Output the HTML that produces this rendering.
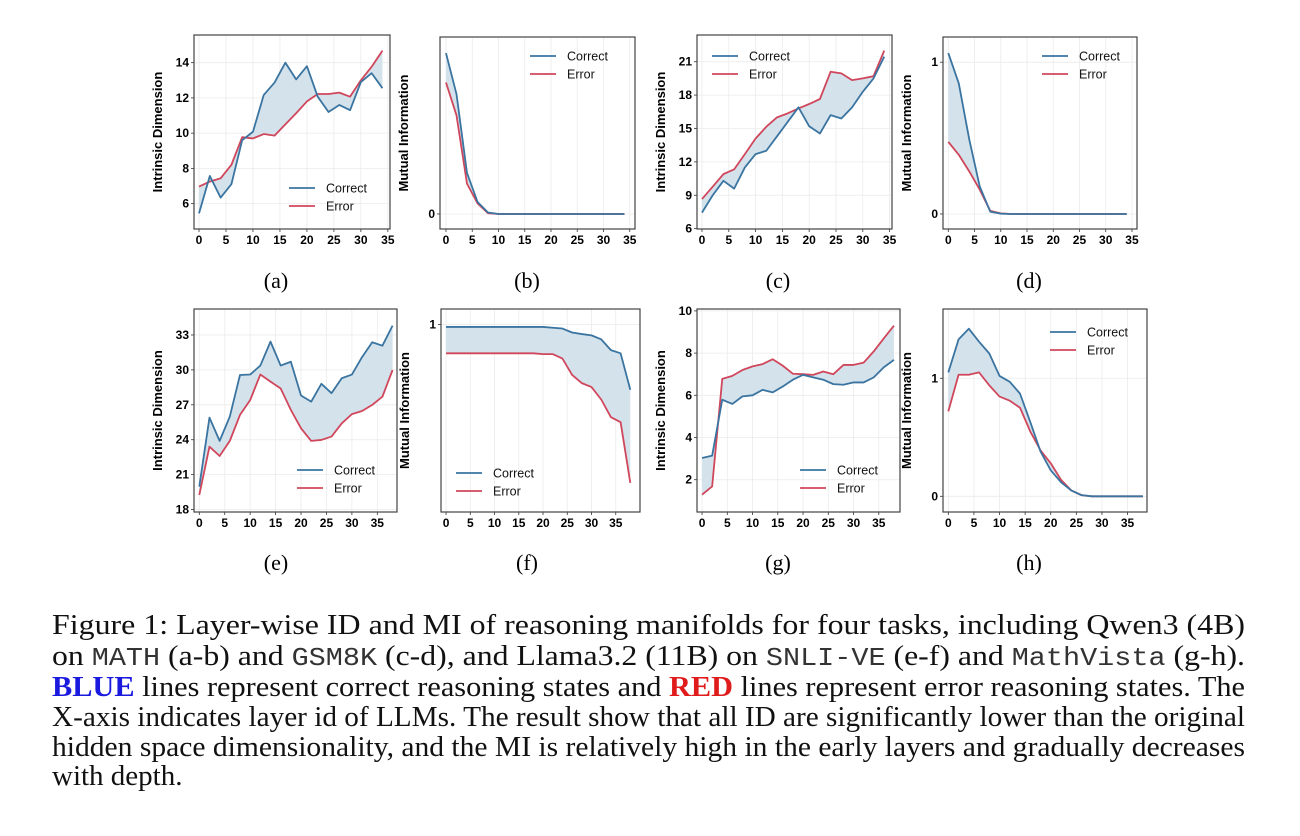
<!DOCTYPE html>
<html><head><meta charset="utf-8">
<style>
body{margin:0;background:#fff;width:1300px;height:836px;overflow:hidden;position:relative;font-family:"Liberation Sans",sans-serif}
#cap{position:absolute;left:52px;top:609px;width:1193px;font-family:"Liberation Serif",serif;font-size:29px;color:#111}
#cap .ln{position:absolute;left:0;white-space:nowrap;transform-origin:0 0;line-height:32px}
.m{font-family:"Liberation Mono",monospace;font-size:26px;color:#333}
.sub{position:absolute;font-family:"Liberation Serif",serif;font-size:22px;width:60px;text-align:center}
</style></head><body>
<svg id="fig" width="1300" height="600" style="position:absolute;left:0;top:0"></svg>
<div class="sub" style="left:246px;top:268px">(a)</div>
<div class="sub" style="left:497px;top:268px">(b)</div>
<div class="sub" style="left:748px;top:268px">(c)</div>
<div class="sub" style="left:999px;top:268px">(d)</div>
<div class="sub" style="left:246px;top:550px">(e)</div>
<div class="sub" style="left:497px;top:550px">(f)</div>
<div class="sub" style="left:748px;top:550px">(g)</div>
<div class="sub" style="left:999px;top:550px">(h)</div>
<div id="cap">
<span class="ln fit" style="top:0px">Figure 1: Layer-wise ID and MI of reasoning manifolds for four tasks, including Qwen3 (4B)</span>
<span class="ln fit" style="top:31px">on <span class="m">MATH</span> (a-b) and <span class="m">GSM8K</span> (c-d), and Llama3.2 (11B) on <span class="m">SNLI-VE</span> (e-f) and <span class="m">MathVista</span> (g-h).</span>
<span class="ln fit" style="top:62px"><b style="color:#1a1adf">BLUE</b> lines represent correct reasoning states and <b style="color:#e01b1b">RED</b> lines represent error reasoning states. The</span>
<span class="ln fit" style="top:92px">X-axis indicates layer id of LLMs. The result show that all ID are significantly lower than the original</span>
<span class="ln fit" style="top:122px">hidden space dimensionality, and the MI is relatively high in the early layers and gradually decreases</span>
<span class="ln" id="lastln" style="top:151px">with depth.</span>
</div>
<script>
const layersA = [0,2,4,6,8,10,12,14,16,18,20,22,24,26,28,30,32,34];
const layersB = [0,2,4,6,8,10,12,14,16,18,20,22,24,26,28,30,32,34,36,38];
const aCorrect = [5.45,7.57,6.34,7.1,9.6,10.08,12.17,12.87,14.0,13.05,13.8,12.07,11.2,11.6,11.3,12.9,13.4,12.55];
const aError = [6.97,7.25,7.44,8.2,9.77,9.7,9.95,9.86,10.5,11.13,11.8,12.22,12.22,12.3,12.07,13.0,13.77,14.68];
const bCorrect = [1.06,0.79,0.27,0.08,0.01,0,0,0,0,0,0,0,0,0,0,0,0,0];
const bError = [0.866,0.65,0.2,0.07,0.005,0,0,0,0,0,0,0,0,0,0,0,0,0];
const cCorrect = [7.44,9.0,10.3,9.6,11.5,12.7,13.0,14.3,15.6,16.9,15.2,14.55,16.2,15.9,16.9,18.3,19.5,21.45];
const cError = [8.66,9.77,10.9,11.33,12.7,14.1,15.16,16.0,16.36,16.8,17.2,17.65,20.1,19.95,19.35,19.5,19.7,22.0];
const dCorrect = [1.06,0.86,0.49,0.18,0.015,0.002,0,0,0,0,0,0,0,0,0,0,0,0];
const dError = [0.475,0.39,0.28,0.16,0.02,0.004,0,0,0,0,0,0,0,0,0,0,0,0];
const eCorrect = [19.97,25.9,23.9,25.99,29.56,29.6,30.37,32.43,30.37,30.7,27.8,27.27,28.8,28.0,29.28,29.6,31.1,32.37,32.08,33.8];
const eError = [19.26,23.4,22.6,23.9,26.13,27.4,29.6,28.99,28.4,26.56,24.98,23.9,23.98,24.27,25.4,26.2,26.47,26.99,27.7,29.99];
const fCorrect = [0.991,0.991,0.991,0.991,0.991,0.991,0.991,0.991,0.991,0.991,0.991,0.988,0.985,0.970,0.964,0.959,0.944,0.903,0.891,0.753];
const fError = [0.891,0.891,0.891,0.891,0.891,0.891,0.891,0.891,0.891,0.891,0.888,0.888,0.871,0.809,0.778,0.763,0.716,0.649,0.63,0.4];
const gCorrect = [3.03,3.14,5.79,5.59,5.95,6.0,6.26,6.14,6.42,6.74,6.97,6.85,6.74,6.53,6.5,6.61,6.61,6.85,7.33,7.68];
const gError = [1.29,1.68,6.78,6.92,7.2,7.37,7.48,7.71,7.4,7.02,7.0,6.97,7.13,7.0,7.44,7.44,7.55,8.08,8.7,9.3];
const hCorrect = [1.05,1.33,1.42,1.31,1.21,1.02,0.97,0.87,0.63,0.38,0.22,0.12,0.05,0.01,0,0,0,0,0,0];
const hError = [0.72,1.03,1.03,1.05,0.94,0.845,0.81,0.75,0.55,0.39,0.28,0.14,0.05,0.01,0,0,0,0,0,0];
const xTicks = [0,5,10,15,20,25,30,35];
const yTicksA = [6,8,10,12,14];
const yTicksC = [6,9,12,15,18,21];
const yTicksE = [18,21,24,27,30,33];
const yTicksG = [2,4,6,8,10];
const yTicksMI = [0,1];

const NS='http://www.w3.org/2000/svg';
const svg=document.getElementById('fig');
function mk(tag,at,parent){const e=document.createElementNS(NS,tag);for(const k in at)e.setAttribute(k,at[k]);(parent||svg).appendChild(e);return e;}
const BLUE='#3a74a0', RED='#d0475c';

const panels=[
 {id:'a',box:[194,35,196,194],xd:[-0.93,35.4],yd:[4.56,15.57],x:layersA,c:aCorrect,e:aError,yt:yTicksA,yl:'Intrinsic Dimension',leg:[289,188]},
 {id:'b',box:[440,37,195,192],xd:[-1.14,36.0],yd:[-0.099,1.166],x:layersA,c:bCorrect,e:bError,yt:[0],yl:'Mutual Information',leg:[530,56]},
 {id:'c',box:[697,35,195,194],xd:[-0.93,35.45],yd:[5.97,23.4],x:layersA,c:cCorrect,e:cError,yt:yTicksC,yl:'Intrinsic Dimension',leg:[712,56]},
 {id:'d',box:[943,37,194,192],xd:[-1.01,35.96],yd:[-0.099,1.166],x:layersA,c:dCorrect,e:dError,yt:yTicksMI,yl:'Mutual Information',leg:[1042,56]},
 {id:'e',box:[194,309,203,203],xd:[-1.04,38.87],yd:[17.79,35.23],x:layersB,c:eCorrect,e:eError,yt:yTicksE,yl:'Intrinsic Dimension',leg:[297,470]},
 {id:'f',box:[441,309,199,203],xd:[-1.04,40.0],yd:[0.2896,1.059],x:layersB,c:fCorrect,e:fError,yt:[1],yl:'Mutual Information',leg:[456,473]},
 {id:'g',box:[697,309,203,203],xd:[-1.0,39.2],yd:[0.47,10.09],x:layersB,c:gCorrect,e:gError,yt:yTicksG,yl:'Intrinsic Dimension',leg:[800,470]},
 {id:'h',box:[943,309,204,203],xd:[-1.04,38.8],yd:[-0.133,1.587],x:layersB,c:hCorrect,e:hError,yt:yTicksMI,yl:'Mutual Information',leg:[1050,332]}
];

panels.forEach(p=>{
 const [bx,by,bw,bh]=p.box;
 const X=v=>bx+(v-p.xd[0])/(p.xd[1]-p.xd[0])*bw;
 const Y=v=>by+bh-(v-p.yd[0])/(p.yd[1]-p.yd[0])*bh;
 const g=mk('g',{});
 
 
 xTicks.forEach(t=>{const l=mk('line',{x1:X(t),x2:X(t),y1:by,y2:by+bh,stroke:'#ebebeb','stroke-width':0.8},g);
  
  const tx=mk('text',{x:X(t),y:by+bh+15,'text-anchor':'middle','font-size':12,'font-weight':'bold',fill:'#000'},g);tx.textContent=t;
  
  mk('line',{x1:X(t),x2:X(t),y1:by+bh,y2:by+bh+3,stroke:'#333','stroke-width':0.8},g);
 });
 p.yt.forEach(t=>{const l=mk('line',{x1:bx,x2:bx+bw,y1:Y(t),y2:Y(t),stroke:'#ebebeb','stroke-width':0.8},g);
  
  const tx=mk('text',{x:bx-5,y:Y(t)+4,'text-anchor':'end','font-size':12,'font-weight':'bold',fill:'#000'},g);tx.textContent=t;
  
  mk('line',{x1:bx-3,x2:bx,y1:Y(t),y2:Y(t),stroke:'#333','stroke-width':0.8},g);
 });
 let pts=p.x.map((v,i)=>X(v)+','+Y(p.c[i]));
 for(let i=p.x.length-1;i>=0;i--)pts.push(X(p.x[i])+','+Y(p.e[i]));
 const f=mk('polygon',{points:pts.join(' '),fill:'#d4e2ec'},g);
 
 const le=mk('polyline',{points:p.x.map((v,i)=>X(v)+','+Y(p.e[i])).join(' '),fill:'none',stroke:RED,'stroke-width':1.8,'stroke-linejoin':'round'},g);
 
 const lc=mk('polyline',{points:p.x.map((v,i)=>X(v)+','+Y(p.c[i])).join(' '),fill:'none',stroke:BLUE,'stroke-width':1.8,'stroke-linejoin':'round'},g);
 
 const fr=mk('rect',{x:bx,y:by,width:bw,height:bh,fill:'none',stroke:'#444','stroke-width':1.2},g);
 
 const yl=mk('text',{x:0,y:0,transform:`translate(${bx-32},${by+bh/2}) rotate(-90)`,'text-anchor':'middle','font-size':13,'font-weight':'bold',fill:'#000'},g);
 yl.textContent=p.yl;
 
 const [lx,ly]=p.leg;
 [['Correct',BLUE,0],['Error',RED,18]].forEach(([n,c,dy])=>{
  mk('line',{x1:lx,x2:lx+26,y1:ly+dy,y2:ly+dy,stroke:c,'stroke-width':1.8},g);
  const t=mk('text',{x:lx+37,y:ly+dy+4.5,'font-size':12.5,fill:'#111'},g);t.textContent=n;
  
 });
});

const lns=document.querySelectorAll('#cap .fit');
let sx=1;
lns.forEach(l=>{const w=l.getBoundingClientRect().width;const s=1193/w;l.style.transform='scaleX('+s+')';sx=s;});
document.getElementById('lastln').style.transform='scaleX('+Math.min(1,sx)+')';
</script>
</body></html>
